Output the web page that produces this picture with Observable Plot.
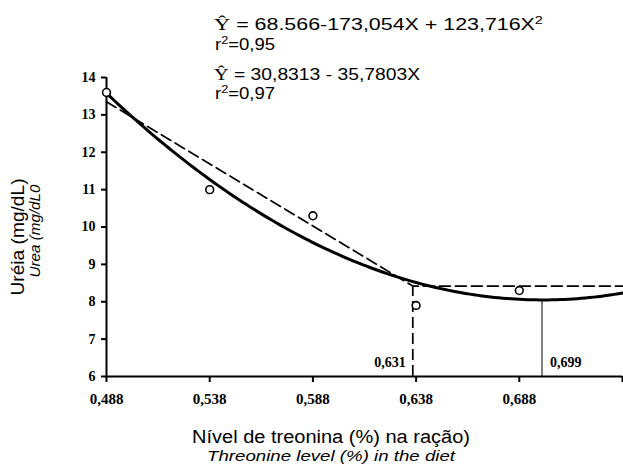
<!DOCTYPE html>
<html><head><meta charset="utf-8">
<script src="https://cdn.jsdelivr.net/npm/d3@7"></script>
<script src="https://cdn.jsdelivr.net/npm/@observablehq/plot@0.6"></script>
<style>body{margin:0;background:#fff} svg{display:block}</style>
</head><body><div id="chart"></div>
<script>
// Observed means
const levels = [0.488, 0.538, 0.588, 0.638, 0.688];
const urea = [13.6, 11.0, 10.3, 7.9, 8.3];
// Axis ticks
const xTicks = [0.488, 0.538, 0.588, 0.638, 0.688, 0.738];
const xTickLabels = ["0,488", "0,538", "0,588", "0,638", "0,688", ""];
const yTicks = [6, 7, 8, 9, 10, 11, 12, 13, 14];
// Fitted models (as printed on the chart)
const quadCoef = [68.566, -173.054, 123.716];
const quadRange = [0.488, 0.738];
// Linear-plateau line as drawn
const plateauX = [0.488, 0.6364, 0.738];
const plateauY = [13.35, 8.42, 8.42];
// Break points as drawn
const breakX = [0.6364, 0.699];
const breakTop = [8.42, 8.05];
const breakLabels = ["0,631", "0,699"];

const obs = levels.map((x, i) => ({x, y: urea[i]}));
const quad = d3.range(quadRange[0], quadRange[1] + 1e-9, 0.002).map(x => ({x, y: quadCoef[0] + quadCoef[1] * x + quadCoef[2] * x * x}));
const plateau = plateauX.map((x, i) => ({x, y: plateauY[i]}));
const serif = "'Liberation Serif', 'Times New Roman', serif";
const sans = "'Liberation Sans', Arial, sans-serif";

const plot = Plot.plot({
  width: 623, height: 476,
  marginLeft: 106, marginRight: 1, marginTop: 77, marginBottom: 100,
  x: {domain: [0.488, 0.738]},
  y: {domain: [6, 14]},
  style: {background: "white", color: "black"},
  marks: [
    Plot.axisX({ticks: xTicks, tickFormat: d => xTickLabels[xTicks.indexOf(d)], tickSize: 6, tickPadding: 11, strokeWidth: 2, fontFamily: serif, fontWeight: "bold", fontSize: 15, label: null}),
    Plot.axisY({ticks: yTicks, tickSize: 5, tickPadding: 6, strokeWidth: 2, fontFamily: serif, fontWeight: "bold", fontSize: 14, label: null}),
    Plot.ruleX([quadRange[0]], {y1: 6, y2: 14, strokeWidth: 2}),
    Plot.ruleY([6], {x1: quadRange[0], x2: quadRange[1], strokeWidth: 2}),
    Plot.line(plateau, {x: "x", y: "y", strokeWidth: 1.7, strokeDasharray: "11,5"}),
    Plot.line(quad, {x: "x", y: "y", strokeWidth: 3}),
    Plot.ruleX([breakX[0]], {y1: 6, y2: breakTop[0], strokeWidth: 1.7, strokeDasharray: "11,5"}),
    Plot.ruleX([breakX[1]], {y1: 6, y2: breakTop[1], strokeWidth: 1}),
    Plot.dot(obs, {x: "x", y: "y", r: 3.9, stroke: "black", fill: "white", strokeWidth: 1.6}),
    Plot.text([0], {x: () => breakX[0], y: () => 6, text: () => breakLabels[0], dx: -7, dy: -14, textAnchor: "end", fontFamily: serif, fontWeight: "bold", fontSize: 14}),
    Plot.text([0], {x: () => breakX[1], y: () => 6, text: () => breakLabels[1], dx: 8, dy: -14, textAnchor: "start", fontFamily: serif, fontWeight: "bold", fontSize: 14})
  ]
});
document.getElementById("chart").appendChild(plot);

const svg = d3.select(plot);
function eq(x, y, len, parts, size) {
  const t = svg.append("text").attr("x", x).attr("y", y).attr("text-anchor", "start")
    .attr("font-family", sans).attr("font-size", size).attr("fill", "black")
    .attr("textLength", len).attr("lengthAdjust", "spacingAndGlyphs");
  parts.forEach(p => {
    const ts = t.append("tspan").text(p.t);
    if (p.sup) ts.attr("font-size", size * 0.68).attr("dy", -size * 0.38);
    if (p.after) ts.attr("dy", size * 0.38);
    if (p.serif) ts.attr("font-family", serif).attr("font-size", size * 1.05);
  });
  return t;
}
eq(214, 30, 329, [{t: "Ŷ", serif: true}, {t: " = 68.566-173,054X + 123,716X"}, {t: "2", sup: true}], 16);
eq(215, 50, 60, [{t: "r"}, {t: "2", sup: true}, {t: "=0,95", after: true}], 16);
eq(214, 80, 206, [{t: "Ŷ", serif: true}, {t: " = 30,8313 - 35,7803X"}], 16);
eq(215, 99, 60, [{t: "r"}, {t: "2", sup: true}, {t: "=0,97", after: true}], 16);

function title(x, y, rot, len, size, italic, txt) {
  const t = svg.append("text").attr("transform", `translate(${x},${y})` + (rot ? " rotate(-90)" : ""))
    .attr("text-anchor", "middle").attr("font-family", sans).attr("font-size", size)
    .attr("textLength", len).attr("lengthAdjust", "spacingAndGlyphs").text(txt);
  if (italic) t.attr("font-style", "italic");
}
title(24, 237, true, 117, 18, false, "Uréia (mg/dL)");
title(40, 231, true, 93, 14, true, "Urea (mg/dL0");
title(331, 443, false, 278, 18, false, "Nível de treonina (%) na ração)");
title(331, 461, false, 248, 14, true, "Threonine level (%) in the diet");
</script></body></html>
